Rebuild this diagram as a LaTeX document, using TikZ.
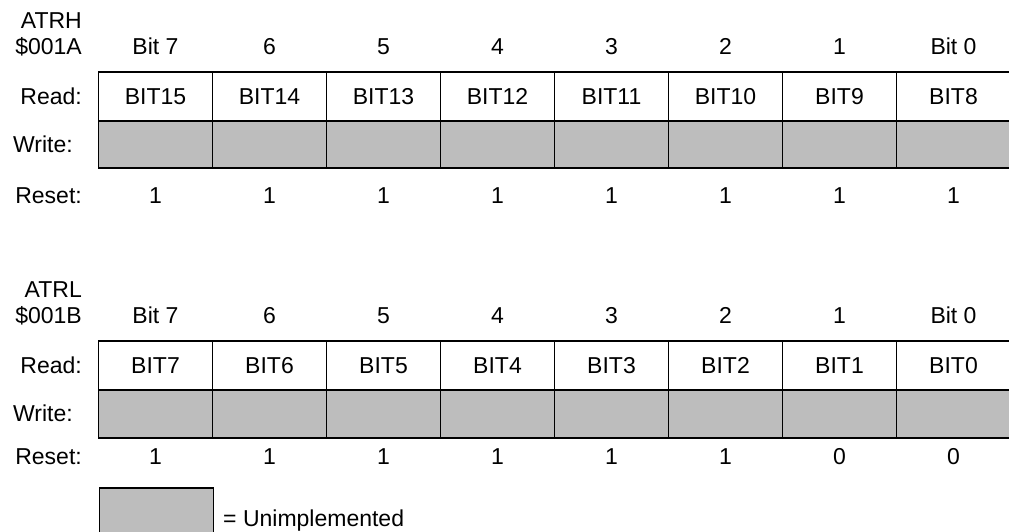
\documentclass[tikz,border=0pt]{standalone}
\usepackage{fontspec}
\setmainfont{Liberation Sans}
\begin{document}
\begin{tikzpicture}[x=1pt,y=-1pt,
  txt/.style={font=\fontsize{23}{26}\selectfont, inner sep=0pt, anchor=base},
  rlbl/.style={txt, anchor=base east},
  cell/.style={draw=black, line width=1.8pt, minimum width=114pt, inner sep=0pt, font=\fontsize{23}{26}\selectfont},
  unimpl/.style={cell, fill=black!26}]
\useasboundingbox (0,0) rectangle (1009,531);

% ---------- ATRH ----------
\node[rlbl] (hname) at (82,28.5) {ATRH};
\node[rlbl] (haddr) at (82,54) {\$001A};
\node[rlbl] (hread) at (82,104) {Read:};
\node[rlbl] (hwrite) at (73,152.5) {Write:};
\node[rlbl] (hreset) at (82,203.5) {Reset:};
\foreach \i/\h/\b/\r in {0/Bit 7/BIT15/1,1/6/BIT14/1,2/5/BIT13/1,3/4/BIT12/1,4/3/BIT11/1,5/2/BIT10/1,6/1/BIT9/1,7/Bit 0/BIT8/1}{
  \node[txt] (hh\i) at ({155.5+114*\i},54) {\h};
  \node[cell, minimum height=49pt] (hr\i) at ({155.5+114*\i},96.5) {\b};
  \node[unimpl, minimum height=47pt] (hw\i) at ({155.5+114*\i},144.5) {};
  \node[txt] (hs\i) at ({155.5+114*\i},203.5) {\r};
}

% ---------- ATRL ----------
\node[rlbl] (lname) at (82,297.5) {ATRL};
\node[rlbl] (laddr) at (82,323) {\$001B};
\node[rlbl] (lread) at (82,373) {Read:};
\node[rlbl] (lwrite) at (73,421.5) {Write:};
\node[rlbl] (lreset) at (82,464) {Reset:};
\foreach \i/\h/\b/\r in {0/Bit 7/BIT7/1,1/6/BIT6/1,2/5/BIT5/1,3/4/BIT4/1,4/3/BIT3/1,5/2/BIT2/1,6/1/BIT1/0,7/Bit 0/BIT0/0}{
  \node[txt] (lh\i) at ({155.5+114*\i},323) {\h};
  \node[cell, minimum height=49pt] (lr\i) at ({155.5+114*\i},365.5) {\b};
  \node[unimpl, minimum height=48pt] (lw\i) at ({155.5+114*\i},414) {};
  \node[txt] (ls\i) at ({155.5+114*\i},464) {\r};
}

% ---------- legend ----------
\node[unimpl, minimum height=52pt, anchor=north west] (key) at (98.5,487) {};
\node[txt, anchor=base west] (keytxt) at (223,526) {= Unimplemented};
\end{tikzpicture}
\end{document}
